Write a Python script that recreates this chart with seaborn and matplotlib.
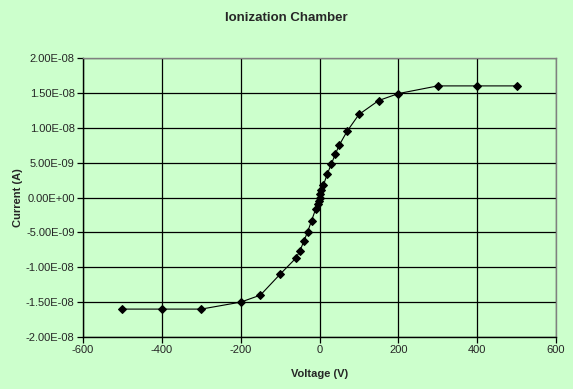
import matplotlib
matplotlib.use("Agg")
import matplotlib.pyplot as plt
import matplotlib.ticker as mticker
import seaborn as sns
import pandas as pd

voltage = [-500, -400, -300, -200, -150, -100, -60, -50, -40, -30, -20, -10, -5, -2, 0,
           2, 5, 10, 20, 30, 40, 50, 70, 100, 150, 200, 300, 400, 500]
current = [-1.6e-8, -1.6e-8, -1.6e-8, -1.5e-8, -1.4e-8, -1.1e-8, -8.7e-9, -7.7e-9, -6.3e-9,
           -4.9e-9, -3.3e-9, -1.7e-9, -1.0e-9, -0.5e-9, 0.0,
           0.5e-9, 1.1e-9, 1.8e-9, 3.4e-9, 4.8e-9, 6.2e-9, 7.5e-9, 9.5e-9, 1.19e-8,
           1.39e-8, 1.49e-8, 1.6e-8, 1.6e-8, 1.6e-8]
x_ticks = [-600, -400, -200, 0, 200, 400, 600]
y_ticks = [-2e-8, -1.5e-8, -1e-8, -5e-9, 0, 5e-9, 1e-8, 1.5e-8, 2e-8]

df = pd.DataFrame({"Voltage (V)": voltage, "Current (A)": current})

sns.set_style("white")
plt.rcParams["font.family"] = ["Liberation Sans", "DejaVu Sans"]

bg = "#CCFFCC"
fig = plt.figure(figsize=(5.73, 3.89), dpi=100, facecolor=bg)
ax = fig.add_axes([83/573, 1 - 337/389, (556 - 83)/573, (337 - 58)/389])
ax.set_facecolor(bg)

sns.lineplot(data=df, x="Voltage (V)", y="Current (A)", ax=ax, color="black",
             linewidth=0.8, marker="D", markersize=4.3, markeredgecolor="black",
             markerfacecolor="black", sort=False, zorder=3)

ax.set_xlim(-600, 600)
ax.set_ylim(-2e-8, 2e-8)
ax.set_xticks(x_ticks)
ax.set_yticks(y_ticks)
ax.yaxis.set_major_formatter(mticker.FuncFormatter(lambda v, p: "%.2E" % v))
ax.xaxis.set_major_formatter(mticker.FuncFormatter(lambda v, p: "%d" % v))
ax.grid(True, color="black", linewidth=0.9)
ax.set_axisbelow(True)

for s in ["top", "right"]:
    ax.spines[s].set_color("#808080")
    ax.spines[s].set_linewidth(1.0)
for s in ["left", "bottom"]:
    ax.spines[s].set_color("black")
    ax.spines[s].set_linewidth(1.0)

ax.tick_params(axis="both", direction="out", length=4, width=0.9, color="black",
               labelsize=8, pad=2, left=True, bottom=True)

ax.set_xlabel("Voltage (V)", fontsize=8, fontweight="bold", labelpad=10)
ax.set_ylabel("Current (A)", fontsize=8, fontweight="bold", labelpad=2)
fig.text(286.5/573, 1 - 18/389, "Ionization Chamber", ha="center", va="center",
         fontsize=9.5, fontweight="bold")

fig.savefig("out.png", dpi=100, facecolor=bg)
